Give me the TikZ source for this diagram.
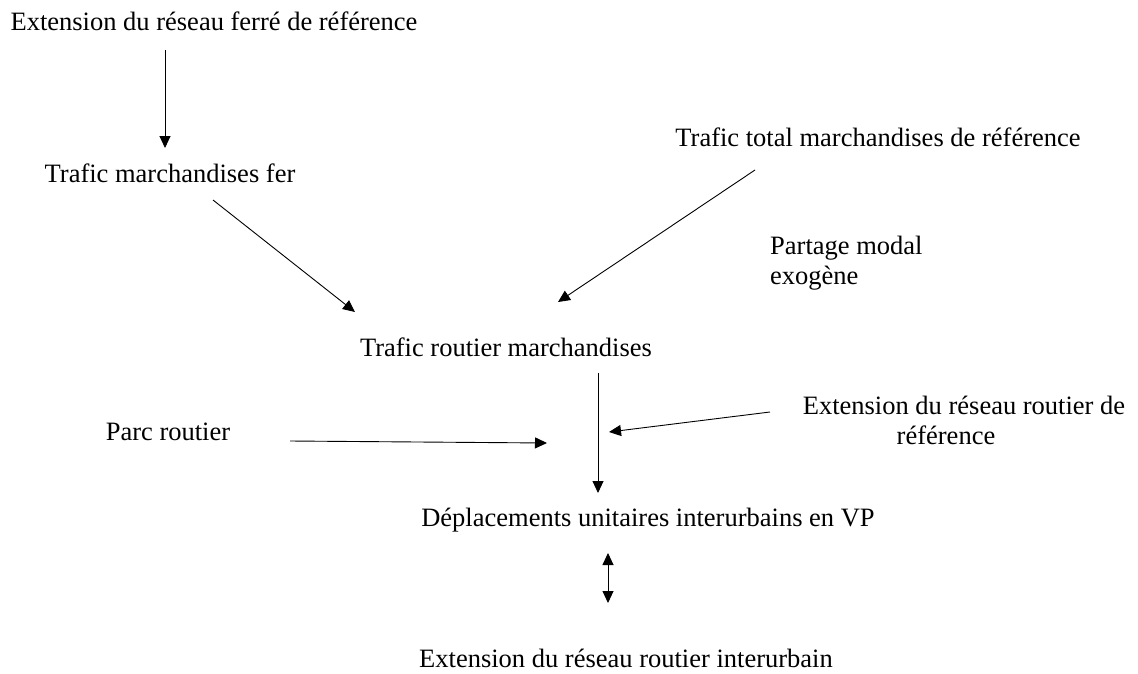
\documentclass[tikz,border=0pt]{standalone}
\usepackage{fontspec}
\setmainfont{Liberation Serif}
\usetikzlibrary{arrows.meta}
\begin{document}
\begin{tikzpicture}[x=1pt,y=-1pt,
  lbl/.style={inner sep=0pt,font=\fontsize{26.5}{30}\selectfont},
  arr/.style={-{Triangle[length=12pt,width=11pt]},line width=0.9pt},
  darr/.style={{Triangle[length=12pt,width=11pt]}-{Triangle[length=12pt,width=11pt]},line width=0.9pt}]
\useasboundingbox (0,0) rectangle (1138,673);
\node[lbl] (ferref) at (214,21) {Extension du réseau ferré de référence};
\node[lbl] (fer) at (170,173) {Trafic marchandises fer};
\node[lbl] (total) at (878,137) {Trafic total marchandises de référence};
\node[lbl,anchor=west] (partage1) at (770,248) {Partage modal};
\node[lbl,anchor=west] (partage2) at (770,278) {exogène};
\node[lbl] (routier) at (506,347) {Trafic routier marchandises};
\node[lbl] (parc) at (168,432) {Parc routier};
\node[lbl] (extr1) at (964,405) {Extension du réseau routier de};
\node[lbl] (extr2) at (946,435) {référence};
\node[lbl] (depl) at (648,520) {Déplacements unitaires interurbains en VP};
\node[lbl] (inter) at (626,658) {Extension du réseau routier interurbain};

\coordinate (a1s) at (165,50);  \coordinate (a1e) at (165,148);
\coordinate (a2s) at (213,200); \coordinate (a2e) at (355,312);
\coordinate (a3s) at (755,170); \coordinate (a3e) at (558,302);
\coordinate (a4s) at (598,373); \coordinate (a4e) at (598,493);
\coordinate (a5s) at (290,441); \coordinate (a5e) at (547,443);
\coordinate (a6s) at (770,412); \coordinate (a6e) at (609,432);
\coordinate (a7s) at (608,553); \coordinate (a7e) at (608,603);

\draw[arr] (a1s) -- (a1e);
\draw[arr] (a2s) -- (a2e);
\draw[arr] (a3s) -- (a3e);
\draw[arr] (a4s) -- (a4e);
\draw[arr] (a5s) -- (a5e);
\draw[arr] (a6s) -- (a6e);
\draw[darr] (a7s) -- (a7e);
\end{tikzpicture}
\end{document}
